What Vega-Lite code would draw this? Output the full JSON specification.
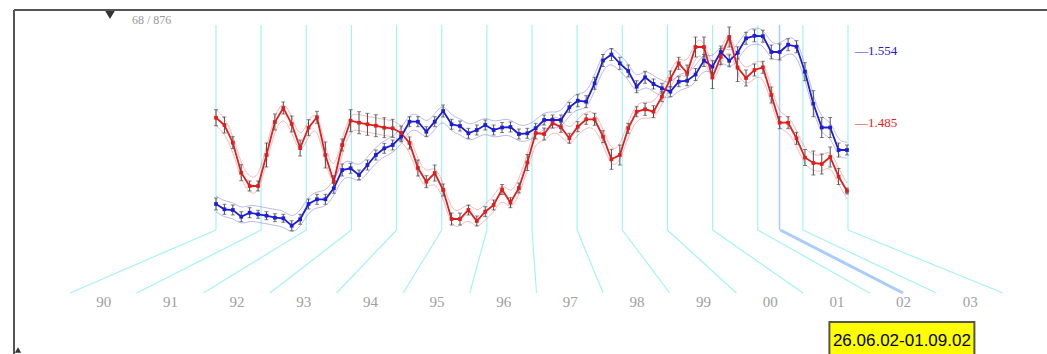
{
  "$schema": "https://vega.github.io/schema/vega-lite/v6.json",
  "width": 1033,
  "height": 344,
  "padding": {"left": 14, "top": 10, "right": 0, "bottom": 0},
  "autosize": {"type": "none"},
  "background": "white",
  "config": {"view": {"stroke": null}},
  "datasets": {
    "series": [
      {"s":"s1","p":0,"v":46,"e":6},{"s":"s1","p":1,"v":40.7,"e":5},{"s":"s1","p":2,"v":40,"e":5},{"s":"s1","p":3,"v":33.3,"e":5},
      {"s":"s1","p":4,"v":37.3,"e":5},{"s":"s1","p":5,"v":35.7,"e":4},{"s":"s1","p":6,"v":34.3,"e":4},{"s":"s1","p":7,"v":32.3,"e":4},
      {"s":"s1","p":8,"v":31.7,"e":4},{"s":"s1","p":9,"v":24.3,"e":5},{"s":"s1","p":10,"v":30.7,"e":5},{"s":"s1","p":11,"v":46,"e":5},
      {"s":"s1","p":12,"v":50.7,"e":5},{"s":"s1","p":13,"v":50.7,"e":5},{"s":"s1","p":14,"v":61.7,"e":5},{"s":"s1","p":15,"v":80,"e":6},
      {"s":"s1","p":16,"v":81.7,"e":5},{"s":"s1","p":17,"v":75,"e":5},{"s":"s1","p":18,"v":85,"e":5},{"s":"s1","p":19,"v":95,"e":5},
      {"s":"s1","p":20,"v":101.7,"e":5},{"s":"s1","p":21,"v":105,"e":5},{"s":"s1","p":22,"v":113.3,"e":5},{"s":"s1","p":23,"v":128.3,"e":5},
      {"s":"s1","p":24,"v":128.3,"e":5},{"s":"s1","p":25,"v":118.3,"e":5},{"s":"s1","p":26,"v":128.3,"e":5},{"s":"s1","p":27,"v":139,"e":6},
      {"s":"s1","p":28,"v":125.7,"e":5},{"s":"s1","p":29,"v":124,"e":5},{"s":"s1","p":30,"v":116.7,"e":5},{"s":"s1","p":31,"v":120,"e":5},
      {"s":"s1","p":32,"v":125,"e":5},{"s":"s1","p":33,"v":120,"e":5},{"s":"s1","p":34,"v":122.5,"e":5},{"s":"s1","p":35,"v":123,"e":5},
      {"s":"s1","p":36,"v":116,"e":5},{"s":"s1","p":37,"v":116.7,"e":5},{"s":"s1","p":38,"v":121.7,"e":5},{"s":"s1","p":39,"v":130,"e":5},
      {"s":"s1","p":40,"v":130,"e":5},{"s":"s1","p":41,"v":130,"e":5},{"s":"s1","p":42,"v":142.7,"e":5},{"s":"s1","p":43,"v":149.3,"e":6},
      {"s":"s1","p":44,"v":148.3,"e":6},{"s":"s1","p":45,"v":166.7,"e":6},{"s":"s1","p":46,"v":189.5,"e":6},{"s":"s1","p":47,"v":195.5,"e":6},
      {"s":"s1","p":48,"v":186.7,"e":6},{"s":"s1","p":49,"v":179,"e":6},{"s":"s1","p":50,"v":163.3,"e":6},{"s":"s1","p":51,"v":172.7,"e":6},
      {"s":"s1","p":52,"v":166,"e":5},{"s":"s1","p":53,"v":161.7,"e":5},{"s":"s1","p":54,"v":158.3,"e":5},{"s":"s1","p":55,"v":168.3,"e":5},
      {"s":"s1","p":56,"v":169.3,"e":5},{"s":"s1","p":57,"v":175.5,"e":6},{"s":"s1","p":58,"v":189.5,"e":6},{"s":"s1","p":59,"v":183.3,"e":6},
      {"s":"s1","p":60,"v":198,"e":6},{"s":"s1","p":61,"v":189.2,"e":6},{"s":"s1","p":62,"v":197.2,"e":6},{"s":"s1","p":63,"v":211.7,"e":6},
      {"s":"s1","p":64,"v":214.2,"e":6},{"s":"s1","p":65,"v":213.8,"e":6},{"s":"s1","p":66,"v":198,"e":7},{"s":"s1","p":67,"v":198,"e":8},
      {"s":"s1","p":68,"v":205.3,"e":6},{"s":"s1","p":69,"v":203.3,"e":6},{"s":"s1","p":70,"v":178.3,"e":9},{"s":"s1","p":71,"v":146.3,"e":13},
      {"s":"s1","p":72,"v":122.5,"e":10},{"s":"s1","p":73,"v":122.5,"e":10},{"s":"s1","p":74,"v":100,"e":7},{"s":"s1","p":75,"v":100,"e":5},
      {"s":"s2","p":0,"v":132.3,"e":8},{"s":"s2","p":1,"v":125,"e":8},{"s":"s2","p":2,"v":107.3,"e":6},{"s":"s2","p":3,"v":77.3,"e":8},
      {"s":"s2","p":4,"v":64,"e":5},{"s":"s2","p":5,"v":64,"e":5},{"s":"s2","p":6,"v":95,"e":12},{"s":"s2","p":7,"v":128,"e":8},
      {"s":"s2","p":8,"v":142,"e":6},{"s":"s2","p":9,"v":126,"e":8},{"s":"s2","p":10,"v":102,"e":8},{"s":"s2","p":11,"v":122.3,"e":8},
      {"s":"s2","p":12,"v":132.7,"e":6},{"s":"s2","p":13,"v":95,"e":13},{"s":"s2","p":14,"v":68.3,"e":6},{"s":"s2","p":15,"v":105,"e":6},
      {"s":"s2","p":16,"v":129.3,"e":11},{"s":"s2","p":17,"v":127.3,"e":11},{"s":"s2","p":18,"v":125.7,"e":11},{"s":"s2","p":19,"v":124.3,"e":11},
      {"s":"s2","p":20,"v":122.3,"e":10},{"s":"s2","p":21,"v":121.7,"e":9},{"s":"s2","p":22,"v":117,"e":7},{"s":"s2","p":23,"v":107,"e":6},
      {"s":"s2","p":24,"v":82,"e":8},{"s":"s2","p":25,"v":68.3,"e":6},{"s":"s2","p":26,"v":77,"e":8},{"s":"s2","p":27,"v":60,"e":6},
      {"s":"s2","p":28,"v":31,"e":6},{"s":"s2","p":29,"v":31,"e":6},{"s":"s2","p":30,"v":40,"e":5},{"s":"s2","p":31,"v":29,"e":5},
      {"s":"s2","p":32,"v":38.3,"e":5},{"s":"s2","p":33,"v":45,"e":5},{"s":"s2","p":34,"v":60.5,"e":5},{"s":"s2","p":35,"v":47.3,"e":5},
      {"s":"s2","p":36,"v":62,"e":5},{"s":"s2","p":37,"v":87.5,"e":8},{"s":"s2","p":38,"v":117,"e":6},{"s":"s2","p":39,"v":116,"e":6},
      {"s":"s2","p":40,"v":127,"e":5},{"s":"s2","p":41,"v":122.7,"e":5},{"s":"s2","p":42,"v":111.7,"e":5},{"s":"s2","p":43,"v":123.3,"e":5},
      {"s":"s2","p":44,"v":130.7,"e":5},{"s":"s2","p":45,"v":130.7,"e":6},{"s":"s2","p":46,"v":113.3,"e":6},{"s":"s2","p":47,"v":90.7,"e":10},
      {"s":"s2","p":48,"v":95,"e":10},{"s":"s2","p":49,"v":121.7,"e":5},{"s":"s2","p":50,"v":138.3,"e":5},{"s":"s2","p":51,"v":140.7,"e":6},
      {"s":"s2","p":52,"v":138.3,"e":6},{"s":"s2","p":53,"v":153.3,"e":5},{"s":"s2","p":54,"v":171,"e":8},{"s":"s2","p":55,"v":186.7,"e":6},
      {"s":"s2","p":56,"v":177,"e":8},{"s":"s2","p":57,"v":203,"e":10},{"s":"s2","p":58,"v":203,"e":10},{"s":"s2","p":59,"v":172.5,"e":11},
      {"s":"s2","p":60,"v":193.3,"e":8},{"s":"s2","p":61,"v":213,"e":10},{"s":"s2","p":62,"v":182.5,"e":14},{"s":"s2","p":63,"v":172,"e":8},
      {"s":"s2","p":64,"v":180,"e":6},{"s":"s2","p":65,"v":182.7,"e":6},{"s":"s2","p":66,"v":155,"e":8},{"s":"s2","p":67,"v":127.3,"e":6},
      {"s":"s2","p":68,"v":127.3,"e":6},{"s":"s2","p":69,"v":111.7,"e":6},{"s":"s2","p":70,"v":92.5,"e":8},{"s":"s2","p":71,"v":87,"e":12},
      {"s":"s2","p":72,"v":86,"e":10},{"s":"s2","p":73,"v":93,"e":10},{"s":"s2","p":74,"v":73.5,"e":8},{"s":"s2","p":75,"v":59,"e":3}
    ],
    "years": [
      {"year":1990},{"year":1991},{"year":1992},{"year":1993},{"year":1994},
      {"year":1995},{"year":1996},{"year":1997},{"year":1998},{"year":1999},
      {"year":2000},{"year":2001},{"year":2002},{"year":2003},{"year":2004}
    ],
    "span": [{"start":2002.483,"end":2002.666,"period":2002.5,"label":"26.06.02-01.09.02"}]
  },
  "layer": [
    {
      "data": {"values": [{}]},
      "mark": {"type": "rule", "color": "#555555", "strokeWidth": 2},
      "encoding": {"y": {"value": 0}}
    },
    {
      "data": {"values": [{}]},
      "mark": {"type": "rule", "color": "#555555", "strokeWidth": 2},
      "encoding": {"x": {"value": 0}}
    },
    {
      "data": {"name": "years"},
      "mark": {"type": "rule", "color": "#a4f2f6", "strokeWidth": 1.2},
      "encoding": {
        "x": {"field": "year", "type": "quantitative", "axis": null,
              "scale": {"domain": [1990, 2004], "range": [202, 834], "zero": false, "nice": false}},
        "y": {"value": 15},
        "y2": {"value": 220}
      }
    },
    {
      "data": {"name": "years"},
      "mark": {"type": "rule", "color": "#a4f2f6", "strokeWidth": 1.2},
      "encoding": {
        "x": {"field": "year", "type": "ordinal",
              "scale": {"type": "point", "padding": 0, "range": [56, 989],
                        "domain": [1990,1990.5,1991,1991.5,1992,1992.5,1993,1993.5,1994,1994.5,1995,1995.5,1996,1996.5,1997,1997.5,1998,1998.5,1999,1999.5,2000,2000.5,2001,2001.5,2002,2002.5,2003,2003.5,2004]},
              "axis": {"orient": "bottom", "offset": -61, "title": null, "domain": false, "ticks": false,
                       "tickSize": 0, "grid": false, "labelPadding": 1, "labelAngle": 0,
                       "labelOverlap": false, "labelBound": false,
                       "values": [1990.5,1991.5,1992.5,1993.5,1994.5,1995.5,1996.5,1997.5,1998.5,1999.5,2000.5,2001.5,2002.5,2003.5],
                       "labelExpr": "substring(toString(floor(datum.value)), 2)",
                       "labelFont": "Liberation Serif", "labelFontSize": 15, "labelColor": "#a0a0a0"}},
        "xOffset": {"field": "year", "type": "quantitative",
                    "scale": {"domain": [1990, 2004], "range": [146, -155], "zero": false, "nice": false}},
        "x2": {"field": "year"},
        "y": {"value": 220},
        "y2": {"value": 283}
      }
    },
    {
      "data": {"name": "span"},
      "mark": {"type": "rule", "color": "#a9ccff", "strokeWidth": 1.5},
      "encoding": {
        "x": {"field": "start", "type": "quantitative", "axis": null,
              "scale": {"domain": [1990, 2004], "range": [202, 834], "zero": false, "nice": false}},
        "y": {"value": 15},
        "y2": {"value": 220}
      }
    },
    {
      "data": {"name": "span"},
      "mark": {"type": "rule", "color": "#a9ccff", "strokeWidth": 3},
      "encoding": {
        "x": {"field": "period", "type": "ordinal", "axis": null,
              "scale": {"type": "point", "padding": 0, "range": [56, 989],
                        "domain": [1990,1990.5,1991,1991.5,1992,1992.5,1993,1993.5,1994,1994.5,1995,1995.5,1996,1996.5,1997,1997.5,1998,1998.5,1999,1999.5,2000,2000.5,2001,2001.5,2002,2002.5,2003,2003.5,2004]}},
        "xOffset": {"field": "period", "type": "quantitative",
                    "scale": {"domain": [1990, 2004], "range": [146, -155], "zero": false, "nice": false}},
        "x2": {"field": "period"},
        "y": {"value": 220},
        "y2": {"value": 283}
      }
    },
    {
      "data": {"name": "series"},
      "mark": {"type": "line", "strokeWidth": 1, "interpolate": "basis", "yOffset": -8, "opacity": 0.3},
      "encoding": {
        "x": {"field": "p", "type": "quantitative", "axis": null,
              "scale": {"domain": [0, 75], "range": [202, 833], "zero": false, "nice": false}},
        "y": {"field": "v", "type": "quantitative", "axis": null,
              "scale": {"domain": [-104, 240], "zero": false, "nice": false}},
        "color": {"field": "s", "type": "nominal", "legend": null,
                  "scale": {"domain": ["s1", "s2"], "range": ["#1c1cd9", "#e61b1b"]}}
      }
    },
    {
      "data": {"name": "series"},
      "mark": {"type": "line", "strokeWidth": 1, "interpolate": "basis", "yOffset": 8, "opacity": 0.3},
      "encoding": {
        "x": {"field": "p", "type": "quantitative", "axis": null,
              "scale": {"domain": [0, 75], "range": [202, 833], "zero": false, "nice": false}},
        "y": {"field": "v", "type": "quantitative", "axis": null,
              "scale": {"domain": [-104, 240], "zero": false, "nice": false}},
        "color": {"field": "s", "type": "nominal", "legend": null}
      }
    },
    {
      "data": {"name": "series"},
      "mark": {"type": "line", "strokeWidth": 1.8},
      "encoding": {
        "x": {"field": "p", "type": "quantitative", "axis": null,
              "scale": {"domain": [0, 75], "range": [202, 833], "zero": false, "nice": false}},
        "y": {"field": "v", "type": "quantitative", "axis": null,
              "scale": {"domain": [-104, 240], "zero": false, "nice": false}},
        "color": {"field": "s", "type": "nominal", "legend": null}
      }
    },
    {
      "data": {"name": "series"},
      "mark": {"type": "errorbar", "color": "#4d4d4d", "ticks": {"size": 4}},
      "encoding": {
        "x": {"field": "p", "type": "quantitative", "axis": null,
              "scale": {"domain": [0, 75], "range": [202, 833], "zero": false, "nice": false}},
        "y": {"field": "v", "type": "quantitative", "axis": null,
              "scale": {"domain": [-104, 240], "zero": false, "nice": false}},
        "yError": {"field": "e"}
      }
    },
    {
      "data": {"name": "series"},
      "mark": {"type": "point", "shape": "square", "filled": true, "size": 14, "opacity": 1},
      "encoding": {
        "x": {"field": "p", "type": "quantitative", "axis": null,
              "scale": {"domain": [0, 75], "range": [202, 833], "zero": false, "nice": false}},
        "y": {"field": "v", "type": "quantitative", "axis": null,
              "scale": {"domain": [-104, 240], "zero": false, "nice": false}},
        "color": {"field": "s", "type": "nominal", "legend": null}
      }
    },
    {
      "data": {"values": [{}]},
      "mark": {"type": "text", "align": "left", "baseline": "middle", "font": "Liberation Serif", "fontSize": 13},
      "encoding": {"x": {"value": 841}, "y": {"value": 41}, "text": {"value": "—1.554"}, "color": {"value": "#1c1cd9"}}
    },
    {
      "data": {"values": [{}]},
      "mark": {"type": "text", "align": "left", "baseline": "middle", "font": "Liberation Serif", "fontSize": 13},
      "encoding": {"x": {"value": 841}, "y": {"value": 113}, "text": {"value": "—1.485"}, "color": {"value": "#e61b1b"}}
    },
    {
      "data": {"values": [{}]},
      "mark": {"type": "point", "shape": "triangle-down", "filled": true, "size": 90, "color": "#333333", "opacity": 1},
      "encoding": {"x": {"value": 96}, "y": {"value": 5}}
    },
    {
      "data": {"values": [{}]},
      "mark": {"type": "text", "align": "left", "baseline": "middle", "font": "Liberation Serif", "fontSize": 12, "color": "#999999"},
      "encoding": {"x": {"value": 118}, "y": {"value": 10}, "text": {"value": "68 / 876"}}
    },
    {
      "data": {"values": [{}]},
      "mark": {"type": "point", "shape": "triangle-up", "filled": true, "size": 40, "color": "#333333", "opacity": 1},
      "encoding": {"x": {"value": 4}, "y": {"value": 340}}
    },
    {
      "data": {"name": "span"},
      "mark": {"type": "rect", "fill": "#ffff00", "stroke": "#555555", "strokeWidth": 2, "width": 145, "align": "center"},
      "encoding": {
        "x": {"field": "start", "type": "quantitative", "axis": null,
              "scale": {"domain": [1990, 2004], "range": [56, 989], "zero": false, "nice": false}},
        "y": {"value": 312},
        "y2": {"value": 352}
      }
    },
    {
      "data": {"name": "span"},
      "mark": {"type": "text", "align": "center", "baseline": "middle", "font": "Liberation Sans", "fontSize": 17, "color": "#000000"},
      "encoding": {
        "x": {"field": "start", "type": "quantitative", "axis": null,
              "scale": {"domain": [1990, 2004], "range": [56, 989], "zero": false, "nice": false}},
        "y": {"value": 331},
        "text": {"field": "label"}
      }
    }
  ],
  "resolve": {"scale": {"x": "independent"}, "axis": {"x": "independent"}}
}
